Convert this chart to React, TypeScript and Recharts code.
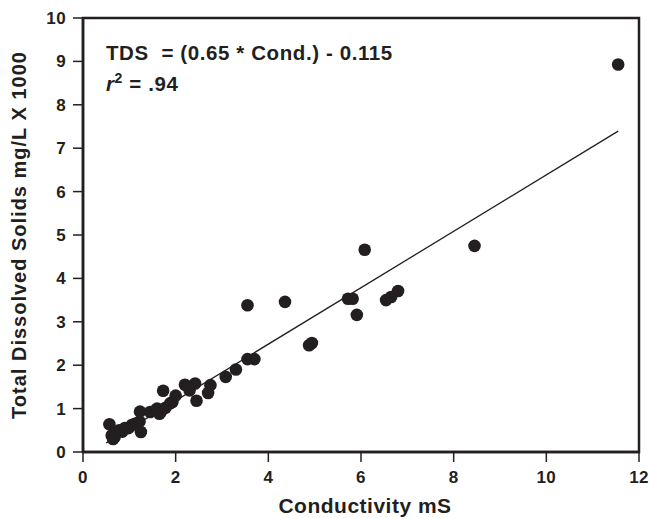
import React from 'react';
import {
  ScatterChart, Scatter, XAxis, YAxis, ReferenceLine, ReferenceArea, Label, Customized,
} from 'recharts';

const conductivity = [
  0.57, 0.62, 0.65, 0.68, 0.72, 0.78, 0.85, 0.90, 0.98, 1.05, 1.12, 1.22, 1.25, 1.23, 1.45, 1.55,
  1.60, 1.65, 1.68, 1.73, 1.78, 1.88, 1.93, 2.00, 2.20, 2.30, 2.42, 2.45, 2.70, 2.75, 3.08, 3.30,
  3.55, 3.70, 3.55, 4.36, 4.88, 4.94, 5.72, 5.82, 5.91, 6.08, 6.54, 6.65, 6.80, 8.45, 11.55,
];
const tds = [
  0.64, 0.38, 0.30, 0.34, 0.45, 0.50, 0.47, 0.55, 0.55, 0.62, 0.65, 0.70, 0.46, 0.93, 0.92, 0.95,
  1.00, 0.88, 0.92, 1.41, 1.02, 1.12, 1.15, 1.30, 1.55, 1.42, 1.58, 1.18, 1.36, 1.54, 1.73, 1.90,
  2.14, 2.14, 3.38, 3.46, 2.46, 2.51, 3.53, 3.53, 3.16, 4.66, 3.50, 3.57, 3.71, 4.75, 8.93,
];
const xTicks = [0, 2, 4, 6, 8, 10, 12];
const yTicks = [0, 1, 2, 3, 4, 5, 6, 7, 8, 9, 10];
const slope = 0.65;
const intercept = -0.115;
const fitRange = [0.5, 11.55];

const points = conductivity.map((x, i) => ({ x, y: tds[i] }));
const fitSegment = fitRange.map((x) => ({ x, y: slope * x + intercept }));

const FONT = '"Liberation Sans", Arial, sans-serif';
const INK = '#231f20';

const Annotation = () => (
  <g fontFamily={FONT} fontWeight="bold" fontSize={20.5} fill={INK} letterSpacing={0.6}>
    <text x={106} y={60} xmlSpace="preserve">TDS  = (0.65 * Cond.) - 0.115</text>
    <text x={106} y={91}>
      <tspan fontStyle="italic">r</tspan>
      <tspan fontSize={14} dy={-8}>2</tspan>
      <tspan dy={8}> = .94</tspan>
    </text>
  </g>
);

const tickStyle = { fill: INK, fontFamily: FONT, fontWeight: 'bold', fontSize: 17, letterSpacing: 0.4 };

export default function App() {
  return (
    <div style={{ position: 'absolute', left: 0, top: 0, background: '#fff' }}>
      <ScatterChart width={650} height={518} margin={{ top: 18, right: 11, left: 0, bottom: 0 }}>
        <XAxis
          type="number"
          dataKey="x"
          domain={[0, 12]}
          ticks={xTicks}
          height={66}
          tickSize={10}
          tickMargin={9}
          axisLine={{ stroke: INK, strokeWidth: 2.5 }}
          tickLine={{ stroke: INK, strokeWidth: 1.5 }}
          tick={tickStyle}
        >
          <Label
            value="Conductivity mS"
            position="insideBottom"
            offset={5}
            dx={4}
            style={{ fill: INK, fontFamily: FONT, fontWeight: 'bold', fontSize: 21, letterSpacing: 0.5 }}
          />
        </XAxis>
        <YAxis
          type="number"
          dataKey="y"
          domain={[0, 10]}
          ticks={yTicks}
          width={83}
          tickSize={10}
          tickMargin={7}
          axisLine={{ stroke: INK, strokeWidth: 2.5 }}
          tickLine={{ stroke: INK, strokeWidth: 1.5 }}
          tick={tickStyle}
        >
          <Label
            value="Total Dissolved Solids mg/L X 1000"
            angle={-90}
            position="insideLeft"
            offset={19}
            style={{ fill: INK, fontFamily: FONT, fontWeight: 'bold', fontSize: 20, letterSpacing: 1, textAnchor: 'middle' }}
          />
        </YAxis>
        <ReferenceArea x1={0} x2={12} y1={0} y2={10} fill="none" stroke={INK} strokeWidth={2.5} ifOverflow="visible" />
        <ReferenceLine segment={fitSegment} stroke={INK} strokeWidth={1.3} ifOverflow="visible" />
        <Scatter data={points} fill={INK} isAnimationActive={false}
          shape={(p: any) => <circle cx={p.cx} cy={p.cy} r={6.3} fill={INK} />} />
        <Customized component={Annotation} />
      </ScatterChart>
    </div>
  );
}
